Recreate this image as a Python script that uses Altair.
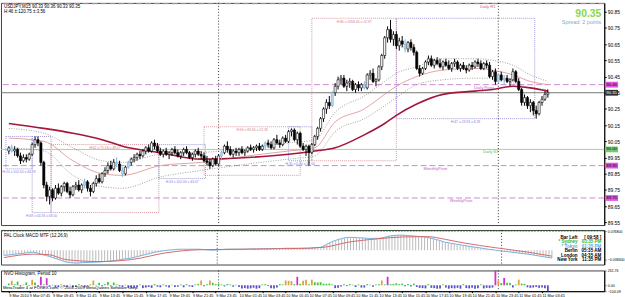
import altair as alt
import pandas as pd

# ---------------- price bars (M15) ----------------
open_ = [89.99, 90.01, 89.99, 90.00, 89.96, 89.93, 89.95, 89.94, 89.97, 90.03,
         90.06, 90.04, 89.92, 89.78, 89.71, 89.75, 89.70, 89.76, 89.73, 89.77,
         89.79, 89.74, 89.72, 89.77, 89.78, 89.75, 89.78, 89.80, 89.76, 89.74,
         89.79, 89.82, 89.80, 89.85, 89.87, 89.90, 89.88, 89.92, 89.91, 89.87,
         89.85, 89.89, 89.92, 89.94, 89.95, 89.97, 89.96, 89.99, 90.01, 89.99,
         90.04, 90.02, 89.99, 89.97, 89.99, 89.97, 89.98, 90.00, 89.98, 89.96,
         89.98, 90.00, 89.98, 89.95, 89.97, 89.99, 89.97, 89.96, 89.93, 89.92,
         89.90, 89.94, 89.91, 89.96, 89.98, 90.02, 90.00, 89.97, 89.99, 89.98,
         90.00, 89.98, 89.99, 90.01, 90.00, 90.01, 90.02, 90.00, 90.02, 90.04,
         90.03, 90.01, 90.06, 90.04, 90.03, 90.07, 90.05, 90.11, 90.12, 90.06,
         90.10, 90.02, 90.00, 90.02, 89.98, 90.03, 90.08, 90.13, 90.19, 90.25,
         90.29, 90.27, 90.35, 90.39, 90.43, 90.44, 90.39, 90.41, 90.42, 90.37,
         90.40, 90.38, 90.40, 90.38, 90.46, 90.47, 90.42, 90.43, 90.51, 90.58,
         90.69, 90.74, 90.68, 90.71, 90.64, 90.67, 90.65, 90.62, 90.66, 90.63,
         90.60, 90.50, 90.47, 90.50, 90.54, 90.56, 90.52, 90.55, 90.53, 90.51,
         90.54, 90.52, 90.50, 90.53, 90.54, 90.50, 90.52, 90.50, 90.49, 90.52,
         90.51, 90.54, 90.53, 90.50, 90.53, 90.52, 90.45, 90.48, 90.42, 90.46,
         90.43, 90.44, 90.42, 90.43, 90.48, 90.42, 90.37, 90.29, 90.32, 90.27,
         90.29, 90.24, 90.22, 90.29, 90.31, 90.34]
high = [90.02, 90.03, 90.02, 90.01, 89.98, 89.97, 89.97, 89.98, 90.04, 90.08,
        90.08, 90.05, 89.93, 89.80, 89.77, 89.76, 89.78, 89.79, 89.78, 89.80,
        89.80, 89.77, 89.78, 89.80, 89.81, 89.79, 89.82, 89.81, 89.78, 89.80,
        89.84, 89.85, 89.86, 89.89, 89.92, 89.93, 89.94, 89.95, 89.93, 89.89,
        89.90, 89.93, 89.95, 89.97, 89.98, 89.99, 90.00, 90.02, 90.03, 90.05,
        90.06, 90.04, 90.01, 90.00, 90.01, 89.99, 90.01, 90.02, 90.00, 89.99,
        90.01, 90.02, 89.99, 89.98, 90.00, 90.01, 89.99, 89.98, 89.96, 89.94,
        89.95, 89.96, 89.97, 89.99, 90.03, 90.05, 90.02, 90.00, 90.01, 90.01,
        90.02, 90.00, 90.02, 90.03, 90.02, 90.03, 90.04, 90.03, 90.05, 90.06,
        90.05, 90.07, 90.09, 90.06, 90.08, 90.09, 90.12, 90.13, 90.13, 90.11,
        90.11, 90.04, 90.03, 90.03, 90.04, 90.09, 90.14, 90.20, 90.26, 90.31,
        90.33, 90.36, 90.41, 90.45, 90.46, 90.46, 90.43, 90.44, 90.43, 90.41,
        90.42, 90.41, 90.42, 90.47, 90.49, 90.50, 90.44, 90.52, 90.59, 90.70,
        90.76, 90.80, 90.73, 90.73, 90.69, 90.70, 90.68, 90.67, 90.68, 90.65,
        90.61, 90.52, 90.51, 90.55, 90.58, 90.58, 90.56, 90.57, 90.56, 90.55,
        90.56, 90.55, 90.54, 90.56, 90.55, 90.53, 90.54, 90.52, 90.53, 90.54,
        90.55, 90.56, 90.55, 90.54, 90.55, 90.54, 90.49, 90.50, 90.47, 90.48,
        90.46, 90.46, 90.44, 90.50, 90.49, 90.44, 90.38, 90.34, 90.33, 90.31,
        90.30, 90.27, 90.30, 90.33, 90.36, 90.37]
low = [89.97, 89.98, 89.96, 89.95, 89.91, 89.92, 89.92, 89.93, 89.96, 90.01,
       90.02, 89.90, 89.76, 89.68, 89.66, 89.68, 89.69, 89.72, 89.71, 89.74,
       89.73, 89.70, 89.71, 89.75, 89.74, 89.73, 89.76, 89.74, 89.71, 89.73,
       89.77, 89.79, 89.79, 89.83, 89.85, 89.87, 89.87, 89.89, 89.86, 89.83,
       89.84, 89.88, 89.90, 89.92, 89.93, 89.94, 89.95, 89.97, 89.98, 89.98,
       90.00, 89.98, 89.96, 89.95, 89.96, 89.94, 89.96, 89.97, 89.95, 89.94,
       89.96, 89.97, 89.94, 89.93, 89.95, 89.96, 89.94, 89.92, 89.90, 89.88,
       89.89, 89.90, 89.90, 89.94, 89.97, 89.98, 89.96, 89.95, 89.96, 89.96,
       89.97, 89.96, 89.98, 89.99, 89.98, 89.99, 89.99, 89.99, 90.00, 90.01,
       90.00, 90.00, 90.03, 90.01, 90.02, 90.04, 90.04, 90.08, 90.05, 90.03,
       90.01, 89.99, 89.96, 89.90, 89.97, 90.02, 90.06, 90.11, 90.17, 90.22,
       90.25, 90.26, 90.33, 90.37, 90.40, 90.38, 90.36, 90.38, 90.36, 90.35,
       90.36, 90.36, 90.37, 90.37, 90.43, 90.41, 90.39, 90.42, 90.49, 90.56,
       90.66, 90.66, 90.64, 90.62, 90.61, 90.63, 90.60, 90.60, 90.61, 90.58,
       90.49, 90.45, 90.46, 90.49, 90.52, 90.51, 90.50, 90.52, 90.50, 90.49,
       90.51, 90.49, 90.48, 90.51, 90.49, 90.48, 90.49, 90.47, 90.48, 90.49,
       90.50, 90.51, 90.49, 90.49, 90.50, 90.44, 90.43, 90.40, 90.41, 90.42,
       90.40, 90.41, 90.39, 90.42, 90.41, 90.36, 90.27, 90.27, 90.25, 90.23,
       90.21, 90.19, 90.21, 90.27, 90.30, 90.32]
close = [90.01, 89.99, 90.00, 89.96, 89.93, 89.95, 89.94, 89.97, 90.03, 90.06,
         90.04, 89.92, 89.78, 89.71, 89.75, 89.70, 89.76, 89.73, 89.77, 89.79,
         89.74, 89.72, 89.77, 89.78, 89.75, 89.78, 89.80, 89.76, 89.74, 89.79,
         89.82, 89.80, 89.85, 89.87, 89.90, 89.88, 89.92, 89.91, 89.87, 89.85,
         89.89, 89.92, 89.94, 89.95, 89.97, 89.96, 89.99, 90.01, 89.99, 90.04,
         90.02, 89.99, 89.97, 89.99, 89.97, 89.98, 90.00, 89.98, 89.96, 89.98,
         90.00, 89.98, 89.95, 89.97, 89.99, 89.97, 89.96, 89.93, 89.92, 89.90,
         89.94, 89.91, 89.96, 89.98, 90.02, 90.00, 89.97, 89.99, 89.98, 90.00,
         89.98, 89.99, 90.01, 90.00, 90.01, 90.02, 90.00, 90.02, 90.04, 90.03,
         90.01, 90.06, 90.04, 90.03, 90.07, 90.05, 90.11, 90.12, 90.06, 90.10,
         90.02, 90.00, 90.02, 89.98, 90.03, 90.08, 90.13, 90.19, 90.25, 90.29,
         90.27, 90.35, 90.39, 90.43, 90.44, 90.39, 90.41, 90.42, 90.37, 90.40,
         90.38, 90.40, 90.38, 90.46, 90.47, 90.42, 90.43, 90.51, 90.58, 90.69,
         90.74, 90.68, 90.71, 90.64, 90.67, 90.65, 90.62, 90.66, 90.63, 90.60,
         90.50, 90.47, 90.50, 90.54, 90.56, 90.52, 90.55, 90.53, 90.51, 90.54,
         90.52, 90.50, 90.53, 90.54, 90.50, 90.52, 90.50, 90.49, 90.52, 90.51,
         90.54, 90.53, 90.50, 90.53, 90.52, 90.45, 90.48, 90.42, 90.46, 90.43,
         90.44, 90.42, 90.43, 90.48, 90.42, 90.37, 90.29, 90.32, 90.27, 90.29,
         90.24, 90.22, 90.29, 90.31, 90.34, 90.35]
blue_bars = [1, 26, 37, 39, 41, 73, 88, 111, 122, 136, 168, 170]

# ---------------- moving averages / envelope ----------------
ma_idx = [0, 12, 22, 32, 39, 52, 66, 82, 96, 105, 112, 122, 129, 133, 140, 149, 160, 166, 173, 179, 185]
ma_slow = [90.16, 90.13, 90.10, 90.06, 90.02, 89.98, 89.94, 89.95, 89.97, 89.99, 90.01,
           90.09, 90.16, 90.21, 90.28, 90.34, 90.36, 90.37, 90.39, 90.38, 90.36]
ma_fast = [90.07, 90.05, 89.93, 89.85, 89.84, 89.90, 89.92, 89.96, 89.99, 90.01, 90.17,
           90.25, 90.34, 90.39, 90.45, 90.49, 90.50, 90.49, 90.46, 90.42, 90.40]
band_up = [90.13, 90.10, 90.01, 89.93, 89.92, 89.97, 89.98, 90.01, 90.04, 90.06, 90.23,
           90.33, 90.42, 90.47, 90.51, 90.56, 90.56, 90.55, 90.52, 90.46, 90.42]
band_dn = [90.01, 89.99, 89.84, 89.77, 89.76, 89.83, 89.87, 89.91, 89.94, 89.96, 90.11,
           90.19, 90.27, 90.32, 90.40, 90.43, 90.44, 90.44, 90.41, 90.38, 90.37]

# ---------------- MACD MTF (12,26,9) ----------------
macd = [-0.021, -0.020, -0.019, -0.017, -0.016, -0.015, -0.013, -0.012, -0.010, -0.009,
        -0.008, -0.010, -0.014, -0.018, -0.021, -0.024, -0.028, -0.032, -0.036, -0.040,
        -0.044, -0.048, -0.050, -0.051, -0.052, -0.052, -0.051, -0.050, -0.050, -0.049,
        -0.049, -0.048, -0.048, -0.047, -0.046, -0.045, -0.044, -0.042, -0.041, -0.039,
        -0.037, -0.035, -0.034, -0.032, -0.029, -0.026, -0.023, -0.020, -0.017, -0.014,
        -0.011, -0.008, -0.006, -0.004, -0.002, 0.000, 0.001, 0.002, 0.003, 0.004,
        0.004, 0.004, 0.004, 0.004, 0.004, 0.004, 0.004, 0.003, 0.002, 0.001,
        0.000, 0.000, 0.001, 0.002, 0.003, 0.004, 0.004, 0.004, 0.004, 0.004,
        0.004, 0.004, 0.004, 0.005, 0.005, 0.005, 0.005, 0.006, 0.006, 0.006,
        0.006, 0.007, 0.007, 0.007, 0.007, 0.008, 0.008, 0.008, 0.008, 0.008,
        0.008, 0.008, 0.008, 0.008, 0.009, 0.010, 0.011, 0.012, 0.018, 0.024,
        0.030, 0.036, 0.040, 0.044, 0.047, 0.050, 0.052, 0.052, 0.052, 0.051,
        0.050, 0.050, 0.049, 0.048, 0.048, 0.048, 0.048, 0.049, 0.051, 0.054,
        0.057, 0.059, 0.060, 0.061, 0.061, 0.061, 0.060, 0.059, 0.058, 0.057,
        0.056, 0.055, 0.054, 0.052, 0.049, 0.046, 0.043, 0.040, 0.036, 0.032,
        0.030, 0.028, 0.026, 0.024, 0.022, 0.020, 0.018, 0.016, 0.014, 0.012,
        0.011, 0.009, 0.007, 0.005, 0.003, 0.002, 0.000, -0.002, -0.003, -0.005,
        -0.006, -0.007, -0.009, -0.010, -0.012, -0.013, -0.015, -0.016, -0.018, -0.020,
        -0.022, -0.024, -0.026, -0.028, -0.030, -0.032]
sig_idx = [0, 10, 15, 21, 32, 43, 55, 66, 99, 108, 116, 126, 135, 143, 149, 155, 166, 177, 185]
sig_val = [-0.030, -0.016, -0.018, -0.038, -0.046, -0.038, -0.010, 0.002, 0.007, 0.012,
           0.032, 0.046, 0.054, 0.055, 0.044, 0.030, 0.010, -0.008, -0.024]

# ---------------- NVO histogram, period 10 ----------------
nvo = [30, 80, 20, 65, -15, 10, 50, -10, 100, 50,
       -20, 150, 15, 125, -25, 10, -30, -35, 15, -20,
       -25, 10, -40, -30, 20, -15, -35, -20, 15, 85,
       10, 45, -15, 20, 60, -10, 50, 15, -20, -30,
       10, -45, -50, -40, -35, 15, -50, -40, -30, -45,
       20, -25, -35, 15, -20, -40, 10, -30, -25, 15,
       -35, 20, -20, -30, 15, 25, 85, -15, 20, 85,
       45, 20, 25, 15, -20, 25, 15, -25, 10, -30,
       -55, -50, -60, -55, -45, -60, -50, 15, 20, -15,
       -50, -55, -40, 20, 15, 85, 80, 75, 20, 150,
       25, 80, 100, 20, 100, 55, 50, 55, 30, 25,
       30, 15, -50, -45, -20, 20, -15, 20, 10, -30,
       15, -40, -40, 20, 10, -25, 15, 20, 85, 15,
       150, 20, 25, 35, 20, 30, -15, 25, -20, 30,
       -30, -45, -50, -55, 20, -45, -50, -60, -55, 15,
       -40, -60, -50, -55, -45, -60, 20, -50, -55, -45,
       -60, -50, 15, -55, -45, -50, -40, 261.76, 85, 40,
       130, 45, 40, -40, 15, 100, 30, 25, -35, -45,
       -40, -30, -45, -40, -50, -104.09]

# ---------------- levels, sessions, time axis ----------------
level_names = ["Daily R1", "Daily Pivot", "Daily S1", "MonthlyPivot", "WeeklyPivot"]
level_vals = [90.90, 90.40, 90.00, 89.90, 89.70]
bid_price = 90.35
day_starts = [72, 168]

box_start = [-1, 8, 14.5, 51.5, 67, 96, 104, 133]
box_end = [8, 14.5, 51.5, 67.5, 100, 104, 133, 180.5]
box_top = [90.08, 90.08, 90.03, 90.03, 90.14, 90.14, 90.81, 90.81]
box_bot = [89.88, 89.61, 89.61, 89.82, 89.84, 89.93, 89.93, 90.19]
box_kind = ["blue", "blue", "red", "blue", "red", "blue", "red", "blue"]
box_text = ["H:20 ±:102.00 ±:44.78", "H:48 ±:44.33 ±:48.00", "H:62 ±:71.18 ±:48.07",
            "H:43 ±:102.00 ±:43.07", "H:56 ±:83.56 ±:22.18", "H:31 ±:0.20 ±:37.00",
            "H:86 ±:2058.40 ±:12.97", "H:47 ±:23.93 ±:8.28"]

tick_idx = [0, 7, 15, 23, 31, 39, 47, 55, 63, 71, 79, 87, 95, 103, 111, 119, 127,
            135, 143, 151, 159, 167, 175, 183]
tick_text = ["9 Mar 2010", "9 Mar 07:45", "9 Mar 09:45", "9 Mar 11:45", "9 Mar 13:45",
             "9 Mar 15:45", "9 Mar 17:45", "9 Mar 19:45", "9 Mar 21:45", "9 Mar 23:45",
             "10 Mar 01:45", "10 Mar 03:45", "10 Mar 05:45", "10 Mar 07:45", "10 Mar 09:45",
             "10 Mar 11:45", "10 Mar 13:45", "10 Mar 15:45", "10 Mar 17:45", "10 Mar 19:45",
             "10 Mar 21:45", "10 Mar 23:45", "11 Mar 01:45", "11 Mar 03:45"]

clock_names = ["Bar Left", "* Sydney", "* Tokyo", "Berlin", "London", "New York"]
clock_times = ["[ 09:58 ]", "03:35 PM", "01:35 PM", "05:35 AM", "04:35 AM", "11:35 PM"]
clock_cols = ["#000000", "#2fb62f", "#5aa9e0", "#000000", "#000000", "#000000"]

# ---------------- layout constants ----------------
W = 611
H_MAIN, H_MACD, H_HIST = 225, 35, 21
FONT = "Liberation Sans"
XDOM = [-1, (W - 3) / 3.0]
xs = alt.Scale(domain=XDOM, nice=False, zero=False)
ys = alt.Scale(domain=[89.533, 90.905], nice=False, zero=False)
price_ticks = [round(89.55 + 0.1 * k, 2) for k in range(14)]
yaxis = alt.Axis(orient="right", values=price_ticks, format=".2f", labelFontSize=5,
                 labelFont=FONT, labelColor="#000", tickSize=2, tickColor="#000",
                 domainColor="#000", labelPadding=1, grid=False, title=None,
                 labelOverlap=False, labelBound=False)


def X(f):
    return alt.X(f, scale=xs, axis=None)


def Y(f):
    return alt.Y(f, scale=ys, axis=yaxis)


n = len(close)
cd = pd.DataFrame({"i": list(range(n)), "o": open_, "h": high, "l": low, "c": close})
cd["fill"] = ["#ffffff" if c >= o else "#000000" for o, c in zip(open_, close)]
cd["stroke"] = "#000000"
cd.loc[cd["i"].isin(blue_bars), "fill"] = "#b4d7ee"
cd.loc[cd["i"].isin(blue_bars), "stroke"] = "#7db4da"

ma = pd.DataFrame({"i": ma_idx, "slow": ma_slow, "fast": ma_fast, "up": band_up, "dn": band_dn})

lv = pd.DataFrame({"name": level_names, "v": level_vals})
lv["lx"] = [493, 489, 496, 440, 466]
bx = pd.DataFrame({"s": box_start, "e": box_end, "t": box_top, "b": box_bot,
                   "kind": box_kind, "txt": box_text})
bx["col"] = ["#8a7fd0" if k == "blue" else "#d0808c" for k in box_kind]
bx["mid"] = (bx["s"] + bx["e"]) / 2
bx["ly"] = [b if k == "blue" else t for k, t, b in zip(box_kind, box_top, box_bot)]
sep = pd.DataFrame({"i": day_starts})

pink = "#c88ad0"
wick = alt.Chart(cd).mark_rule(strokeWidth=1).encode(
    x=X("i:Q"), y=Y("l:Q"), y2="h:Q", color=alt.Color("stroke:N", scale=None))
body = alt.Chart(cd).mark_bar(size=2.2, strokeWidth=0.6).encode(
    x=X("i:Q"), y=Y("o:Q"), y2="c:Q",
    fill=alt.Fill("fill:N", scale=None), stroke=alt.Stroke("stroke:N", scale=None))

pivots = alt.Chart(lv[lv["name"] != "Daily S1"]).mark_rule(
    color=pink, strokeDash=[6, 3], strokeWidth=1).encode(y=Y("v:Q"))
s1 = alt.Chart(lv[lv["name"] == "Daily S1"]).mark_rule(color="#9ad89a", strokeWidth=1).encode(y=Y("v:Q"))
bidline = alt.Chart(pd.DataFrame({"v": [bid_price]})).mark_rule(color="#777777", strokeWidth=1).encode(y=Y("v:Q"))
lvtext = alt.Chart(lv).mark_text(fontSize=4.2, font=FONT, align="center", baseline="top", dy=1).encode(
    x=alt.X("lx:Q", scale=None, axis=None), y=Y("v:Q"),
    text="name:N",
    color=alt.Color("name:N", scale=alt.Scale(domain=level_names,
                    range=["#d05a78", "#c060c8", "#5cb85c", "#c060c8", "#c060c8"]), legend=None))

boxes = alt.Chart(bx).mark_rect(fillOpacity=0, strokeDash=[1, 1], strokeWidth=0.8).encode(
    x=X("s:Q"), x2="e:Q", y=Y("t:Q"), y2="b:Q", stroke=alt.Stroke("col:N", scale=None))
boxtext = alt.Chart(bx).mark_text(fontSize=3.4, font=FONT, baseline="top", dy=1.5).encode(
    x=X("mid:Q"), y=Y("ly:Q"), text="txt:N", color=alt.Color("col:N", scale=None))

sepline = alt.Chart(sep).mark_rule(color="#000000", strokeDash=[1, 2], strokeWidth=0.8).encode(x=X("i:Q"))

slow = alt.Chart(ma).mark_line(color="#a3173c", strokeWidth=1.6, interpolate="monotone").encode(x=X("i:Q"), y=Y("slow:Q"))
fast = alt.Chart(ma).mark_line(color="#dd8c8c", strokeWidth=0.8, interpolate="monotone").encode(x=X("i:Q"), y=Y("fast:Q"))
up = alt.Chart(ma).mark_line(color="#777777", strokeWidth=0.7, strokeDash=[1, 1.5], interpolate="monotone").encode(x=X("i:Q"), y=Y("up:Q"))
dn = alt.Chart(ma).mark_line(color="#777777", strokeWidth=0.7, strokeDash=[1, 1.5], interpolate="monotone").encode(x=X("i:Q"), y=Y("dn:Q"))

info = alt.Chart(pd.DataFrame({"t": ["USDJPY,M15  90.33 90.36 90.33 90.35", "H:46   ±:120.75   ±:3.56"],
                               "yy": [4, 9]})).mark_text(
    fontSize=4.5, font=FONT, align="left", color="#000").encode(
    x=alt.value(3), y=alt.Y("yy:Q", scale=None, axis=None), text="t:N")
bigp = alt.Chart(pd.DataFrame({"t": ["90.35"]})).mark_text(
    fontSize=10.5, font=FONT, fontWeight="bold", align="right", color="#86d94a").encode(
    x=alt.value(608), y=alt.value(11), text="t:N")
spread = alt.Chart(pd.DataFrame({"t": ["Spread: 2 points"]})).mark_text(
    fontSize=5.5, font=FONT, align="right", color="#79aed0").encode(
    x=alt.value(608), y=alt.value(19), text="t:N")

tag_df = pd.DataFrame({"v": [90.40, bid_price, 90.00, 89.90, 89.70],
                       "t": ["90.40", "90.35", "90.00", "89.90", "89.70"],
                       "bg": ["#e055e0", "#303030", "#6fcf6f", "#e055e0", "#e055e0"],
                       "fg": ["#000000", "#ffffff", "#000000", "#000000", "#000000"]})
tags = alt.Chart(tag_df).mark_point(shape="M-1,-0.45H1V0.45H-1Z", size=169, filled=True, opacity=1).encode(
    x=alt.value(618.5), y=Y("v:Q"), color=alt.Color("bg:N", scale=None))
tagt = alt.Chart(tag_df).mark_text(fontSize=4.3, font=FONT, align="center", baseline="middle").encode(
    x=alt.value(618.5), y=Y("v:Q"), text="t:N", color=alt.Color("fg:N", scale=None))

main = alt.layer(boxes, boxtext, pivots, s1, bidline, lvtext, sepline, up, dn, fast, slow,
                 wick, body, info, bigp, spread, tags, tagt).properties(width=W, height=H_MAIN)

# ---------------- MACD panel ----------------
ms = alt.Scale(domain=[-0.058, 0.082], nice=False, zero=False)
maxis = alt.Axis(orient="right", values=[0.0768, -0.0384], format=".6f", labelFontSize=3.6,
                 labelFont=FONT, labelColor="#000", tickSize=2, domainColor="#000",
                 labelPadding=1, grid=False, title=None, labelOverlap=False, labelBound=False)
mdf = pd.DataFrame({"i": list(range(n)), "m": macd})
sdf = pd.DataFrame({"i": sig_idx, "s": sig_val})
mbars = alt.Chart(mdf).mark_rule(color="#a8a8a8", strokeWidth=0.8).encode(
    x=X("i:Q"), y=alt.Y("m:Q", scale=ms, axis=maxis), y2=alt.datum(0))
mline = alt.Chart(mdf).mark_line(color="#78aee0", strokeWidth=1).encode(
    x=X("i:Q"), y=alt.Y("m:Q", scale=ms, axis=maxis))
sline = alt.Chart(sdf).mark_line(color="#d46a6a", strokeWidth=1, interpolate="monotone").encode(
    x=X("i:Q"), y=alt.Y("s:Q", scale=ms, axis=maxis))
gtop = alt.Chart(pd.DataFrame({"a": [1]})).mark_rule(color="#2f6a2f", strokeDash=[2, 1], strokeWidth=1).encode(
    x=alt.value(0), x2=alt.value(W), y=alt.value(1))
msep = alt.Chart(sep).mark_rule(color="#000000", strokeDash=[1, 2], strokeWidth=0.8).encode(x=X("i:Q"))
mtitle = alt.Chart(pd.DataFrame({"t": ["PAL Clock      MACD MTF (12,26,9)"]})).mark_text(
    fontSize=4.5, font=FONT, align="left", color="#000").encode(x=alt.value(3), y=alt.value(6), text="t:N")
ck = pd.DataFrame({"n": clock_names, "t": clock_times, "col": clock_cols, "yy": [8, 12.5, 17, 21.5, 26, 30.5]})
cname = alt.Chart(ck).mark_text(fontSize=4.6, font=FONT, fontWeight="bold", align="right").encode(
    x=alt.value(584), y=alt.Y("yy:Q", scale=None, axis=None), text="n:N", color=alt.Color("col:N", scale=None))
ctime = alt.Chart(ck).mark_text(fontSize=4.6, font=FONT, fontWeight="bold", align="right").encode(
    x=alt.value(608), y=alt.Y("yy:Q", scale=None, axis=None), text="t:N", color=alt.Color("col:N", scale=None))
macdp = alt.layer(mbars, gtop, msep, mline, sline, mtitle, cname, ctime).properties(width=W, height=H_MACD)

# ---------------- NVO histogram panel ----------------
hs = alt.Scale(domain=[-104.09, 261.76], nice=False, zero=False)
haxis = alt.Axis(orient="right", values=[261.76, 0, -104.09], format=".2f", labelFontSize=3.6,
                 labelFont=FONT, labelColor="#000", tickSize=2, domainColor="#000",
                 labelPadding=1, grid=False, title=None, labelOverlap=False, labelBound=False)
xaxis = alt.Axis(values=tick_idx, labelExpr="[" + ",".join("'%s'" % t for t in tick_text) +
                 "][indexof([" + ",".join(str(v) for v in tick_idx) + "], datum.value)]",
                 labelFontSize=3.9, labelFont=FONT, labelColor="#000", labelAlign="left",
                 labelBaseline="top", labelPadding=0.5, tickSize=1.5, tickColor="#000",
                 domainColor="#000", grid=False, title=None, labelOverlap=False,
                 labelBound=False, labelFlush=False)
hdf = pd.DataFrame({"i": list(range(n)), "v": nvo})
hcol = alt.Color("v:Q", scale=alt.Scale(type="threshold", domain=[0, 70, 120],
                 range=["#5a4fc8", "#3cc83c", "#e0a040", "#d030d0"]), legend=None)
hbars = alt.Chart(hdf).mark_bar(size=1.8).encode(
    x=alt.X("i:Q", scale=xs, axis=xaxis), y=alt.Y("v:Q", scale=hs, axis=haxis), y2=alt.datum(0), color=hcol)
hsep = alt.Chart(sep).mark_rule(color="#000000", strokeDash=[1, 2], strokeWidth=0.8).encode(
    x=alt.X("i:Q", scale=xs, axis=xaxis))
htitle = alt.Chart(pd.DataFrame({"t": ["NVO Histogram, Period 10"]})).mark_text(
    fontSize=4.5, font=FONT, align="left", color="#000").encode(x=alt.value(3), y=alt.value(4), text="t:N")
mt4 = alt.Chart(pd.DataFrame({"t": ["MetaTrader 4 at FOREX.com, © 2001-2009 MetaQuotes Software Corp."]})).mark_text(
    fontSize=4.3, font=FONT, align="left", color="#000").encode(x=alt.value(2), y=alt.value(18), text="t:N")
histp = alt.layer(hsep, hbars, htitle, mt4).properties(width=W, height=H_HIST)

chart = alt.vconcat(main, macdp, histp, spacing=2).properties(
    padding=0, background="#ffffff").configure_view(stroke="#404040", strokeWidth=1)

chart.save("out.html", embed_options={"renderer": "svg", "actions": False})
